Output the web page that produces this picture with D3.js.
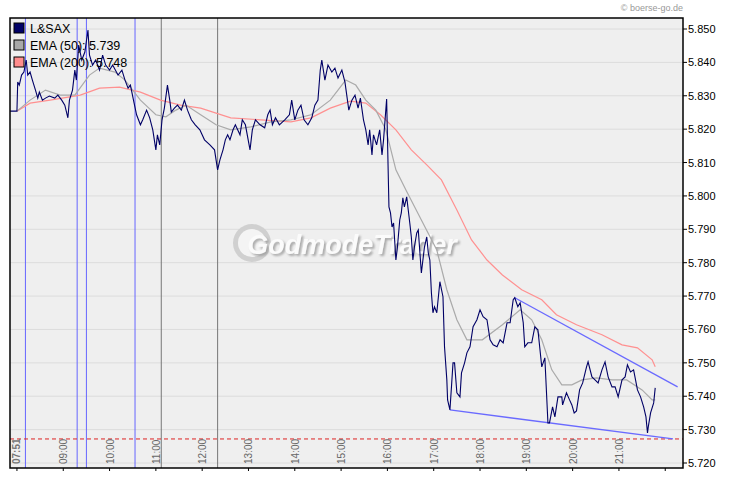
<!DOCTYPE html>
<html><head><meta charset="utf-8">
<script src="https://cdn.jsdelivr.net/npm/d3@7"></script>
<style>body{margin:0;background:#fff}svg{font-family:"Liberation Sans",Arial,sans-serif}</style>
</head><body><svg id="c" width="730" height="481"></svg>
<script>
// time = minutes since midnight
const priceTimes = [471,480,481,483,486,489,492,494,497,500,504,507,509,513,517,522,529,533,538,542,546,548,552,555,557,560,564,568,572,574,578,582,587,591,595,600,604,611,616,620,624,627,631,635,640,643,648,652,656,660,662,665,668,671,675,678,680,684,688,693,697,701,706,711,717,723,730,736,740,743,747,750,753,756,760,763,769,772,776,782,785,789,795,801,805,808,811,815,820,827,833,836,840,844,848,852,857,862,866,870,873,875,879,883,888,892,896,901,905,910,914,918,922,925,929,932,935,937,940,942,946,950,953,955,959,962,964,966,968,971,973,976,978,980,982,985,987,989,991,993,995,998,1000,1004,1008,1011,1013,1015,1017,1019,1021,1024,1028,1032,1034,1037,1038,1041,1043,1045,1047,1050,1054,1056,1060,1063,1067,1071,1076,1080,1084,1089,1093,1097,1102,1106,1110,1115,1119,1123,1125,1129,1132,1136,1138,1142,1147,1151,1155,1160,1164,1168,1170,1174,1177,1181,1186,1187,1192,1196,1199,1202,1205,1209,1213,1218,1220,1225,1229,1233,1238,1242,1246,1251,1255,1259,1264,1268,1271,1275,1279,1284,1288,1292,1295,1297,1298,1301,1305,1307];
const priceValues = [5.8254,5.8254,5.8341,5.8332,5.8362,5.8371,5.8407,5.8362,5.8371,5.8347,5.8317,5.8293,5.8311,5.8287,5.8293,5.8299,5.8293,5.8302,5.8287,5.8272,5.8234,5.8287,5.8317,5.8377,5.8347,5.8452,5.8407,5.8431,5.8497,5.8422,5.8392,5.8407,5.8377,5.8422,5.8392,5.8377,5.8392,5.8362,5.8377,5.8347,5.8323,5.8332,5.8287,5.8243,5.8213,5.8228,5.8257,5.8234,5.8198,5.8138,5.8183,5.8153,5.8228,5.8263,5.8332,5.8287,5.8251,5.8263,5.8272,5.8257,5.8287,5.8257,5.8228,5.8213,5.8198,5.8168,5.8153,5.8138,5.8078,5.8108,5.8138,5.8168,5.8183,5.8168,5.8198,5.8213,5.8183,5.8228,5.8213,5.8138,5.8198,5.8228,5.8213,5.8204,5.8243,5.8257,5.8213,5.8234,5.8213,5.8228,5.8243,5.8287,5.8228,5.8257,5.8272,5.8228,5.8213,5.8234,5.8272,5.8287,5.8377,5.8407,5.8347,5.8392,5.8371,5.8383,5.8353,5.8377,5.8341,5.8257,5.8287,5.8302,5.8263,5.8293,5.8228,5.8198,5.8153,5.8198,5.8123,5.8183,5.8153,5.8198,5.8123,5.8168,5.8290,5.7967,5.7949,5.7907,5.7919,5.7808,5.7847,5.7928,5.7949,5.7994,5.7967,5.7997,5.7958,5.7919,5.7877,5.7808,5.7847,5.7889,5.7898,5.7769,5.7847,5.7877,5.7829,5.7808,5.7710,5.7650,5.7668,5.7650,5.7743,5.7698,5.7548,5.7449,5.7389,5.7359,5.7428,5.7500,5.7500,5.7410,5.7398,5.7470,5.7500,5.7530,5.7548,5.7608,5.7629,5.7659,5.7638,5.7629,5.7569,5.7554,5.7548,5.7569,5.7560,5.7620,5.7620,5.7689,5.7695,5.7668,5.7680,5.7620,5.7548,5.7560,5.7560,5.7608,5.7599,5.7488,5.7515,5.7320,5.7320,5.7368,5.7338,5.7398,5.7398,5.7374,5.7410,5.7389,5.7374,5.7350,5.7356,5.7419,5.7440,5.7488,5.7503,5.7458,5.7449,5.7440,5.7479,5.7503,5.7458,5.7428,5.7428,5.7398,5.7449,5.7458,5.7494,5.7473,5.7479,5.7419,5.7398,5.7368,5.7338,5.7290,5.7308,5.7350,5.7380,5.7425];
const ema50Times = [480,497,517,536,555,574,587,607,620,640,660,673,686,699,718,738,757,783,809,835,861,886,906,919,932,945,958,971,984,1004,1024,1037,1050,1063,1083,1109,1132,1147,1160,1173,1186,1199,1212,1231,1251,1270,1290,1303,1307];
const ema50Values = [5.8254,5.8287,5.8317,5.8302,5.8302,5.8362,5.8383,5.8371,5.8347,5.8287,5.8243,5.8237,5.8257,5.8272,5.8243,5.8213,5.8198,5.8207,5.8222,5.8228,5.8243,5.8287,5.8347,5.8332,5.8287,5.8257,5.8198,5.8078,5.8018,5.7928,5.7838,5.7719,5.7629,5.7569,5.7569,5.7614,5.7659,5.7629,5.7569,5.7479,5.7434,5.7434,5.7449,5.7455,5.7449,5.7449,5.7419,5.7389,5.7389];
const ema200Times = [480,497,523,562,587,613,640,666,692,718,757,796,835,861,886,912,932,951,971,991,1011,1030,1050,1069,1089,1109,1134,1160,1179,1205,1238,1264,1284,1303,1307];
const ema200Values = [5.8254,5.8278,5.8287,5.8302,5.8323,5.8326,5.8311,5.8287,5.8272,5.8263,5.8234,5.8228,5.8222,5.8234,5.8263,5.8284,5.8278,5.8243,5.8198,5.8138,5.8093,5.8048,5.7958,5.7868,5.7808,5.7763,5.7719,5.7689,5.7644,5.7614,5.7584,5.7554,5.7545,5.7509,5.7488];
const yTicks = [5.720,5.730,5.740,5.750,5.760,5.770,5.780,5.790,5.800,5.810,5.820,5.830,5.840,5.850];
const hourTicks = [9,10,11,12,13,14,15,16,17,18,19,20,21];
const blueMarks = [491,558,570,633];
const greyMarks = [667,740];
const upperTrend = [[1125,5.7695],[1336,5.7428]];
const lowerTrend = [[1041,5.7359],[1330,5.7272]];
const supportLevel = 5.7272;
const legendNames = ["L&SAX","EMA (50): 5.739","EMA (200): 5.748"];
const legendColors = ["#000066","#a8a8a8","#ff8c8c"];

const svg = d3.select("#c");
const L=10,R=683,T=18,B=468;
const x = d3.scaleLinear().domain([471,1343]).range([L,R]);
const y = d3.scaleLinear().domain([5.720,5.850]).range([463,29]);

const defs = svg.append("defs");
const f = defs.append("filter").attr("id","sh").attr("x","-10%").attr("y","-30%").attr("width","130%").attr("height","160%");
f.append("feDropShadow").attr("dx",2).attr("dy",2).attr("stdDeviation",1).attr("flood-color","#999").attr("flood-opacity",0.8);

svg.append("rect").attr("x",L).attr("y",T).attr("width",R-L).attr("height",B-T).attr("fill","#efefef");
svg.append("g").selectAll("line").data(yTicks).join("line")
  .attr("x1",L).attr("x2",R).attr("y1",d=>y(d)).attr("y2",d=>y(d)).attr("stroke","#dcdcdc");

// watermark
const wm = svg.append("g").attr("transform","translate(252,243)");
wm.append("circle").attr("r",19).attr("fill","#d0d0d0");
wm.append("circle").attr("r",14).attr("fill","#f4f4f4");
svg.append("text").attr("x",352).attr("y",254).attr("text-anchor","middle").attr("font-size",27).attr("font-weight","bold").attr("font-style","italic")
  .attr("fill","#fbfbfb").attr("filter","url(#sh)").text("GodmodeTrader");

svg.append("g").selectAll("line").data(blueMarks).join("line")
  .attr("x1",d=>x(d)).attr("x2",d=>x(d)).attr("y1",T).attr("y2",B).attr("stroke","#6666ff");
svg.append("g").selectAll("line").data(greyMarks).join("line")
  .attr("x1",d=>x(d)).attr("x2",d=>x(d)).attr("y1",T).attr("y2",B).attr("stroke","#777");

const line = d3.line().x(d=>x(d[0])).y(d=>y(d[1]));
svg.append("path").attr("d",line(d3.zip(ema200Times,ema200Values))).attr("fill","none").attr("stroke","#ff9090").attr("stroke-width",1.2);
svg.append("path").attr("d",line(d3.zip(ema50Times,ema50Values))).attr("fill","none").attr("stroke","#aaaaaa").attr("stroke-width",1.2);
svg.append("line").attr("x1",L).attr("x2",R).attr("y1",y(supportLevel)).attr("y2",y(supportLevel)).attr("stroke","#dd2222").attr("stroke-dasharray","4,3");
[upperTrend,lowerTrend].forEach(t=>svg.append("path").attr("d",line(t)).attr("stroke","#6a6aff").attr("stroke-width",1.3).attr("fill","none"));
svg.append("path").attr("d",line(d3.zip(priceTimes,priceValues))).attr("fill","none").attr("stroke","#000066").attr("stroke-width",1.1);

// x labels
svg.append("g").selectAll("text").data(hourTicks).join("text")
  .attr("transform",d=>`translate(${x(d*60)+4},464) rotate(-90)`).attr("font-size",10).attr("fill","#666")
  .text(d=>String(d).padStart(2,"0")+":00");
svg.append("text").attr("transform",`translate(${x(471)+10},464) rotate(-90)`).attr("font-size",10).attr("font-weight","bold").attr("fill","#777").text("07:51");
svg.append("g").selectAll("line").data([480].concat(hourTicks.map(h=>h*60)).concat([1320])).join("line")
  .attr("x1",d=>x(d)).attr("x2",d=>x(d)).attr("y1",B).attr("y2",B+3).attr("stroke","#000");

// y axis
svg.append("g").selectAll("line").data(yTicks).join("line")
  .attr("x1",R).attr("x2",R+4).attr("y1",d=>y(d)).attr("y2",d=>y(d)).attr("stroke","#000");
svg.append("g").selectAll("text").data(yTicks).join("text")
  .attr("x",R+5).attr("y",d=>y(d)+4).attr("font-size",11).attr("fill","#000").text(d=>d3.format(".3f")(d));

svg.append("rect").attr("x",L).attr("y",T).attr("width",R-L).attr("height",B-T).attr("fill","none").attr("stroke","#000").attr("stroke-width",1.5);

// legend
const lg = svg.append("g").selectAll("g").data(legendNames).join("g").attr("transform",(d,i)=>`translate(14,${23+i*17})`);
lg.append("rect").attr("width",10).attr("height",10).attr("fill",(d,i)=>legendColors[i]).attr("stroke","#000");
lg.append("text").attr("x",16).attr("y",10).attr("font-size",12.5).attr("fill","#000").text(d=>d);

svg.append("text").attr("x",683).attr("y",11).attr("text-anchor","end").attr("font-size",9).attr("fill","#999").text("© boerse-go.de");
</script></body></html>
